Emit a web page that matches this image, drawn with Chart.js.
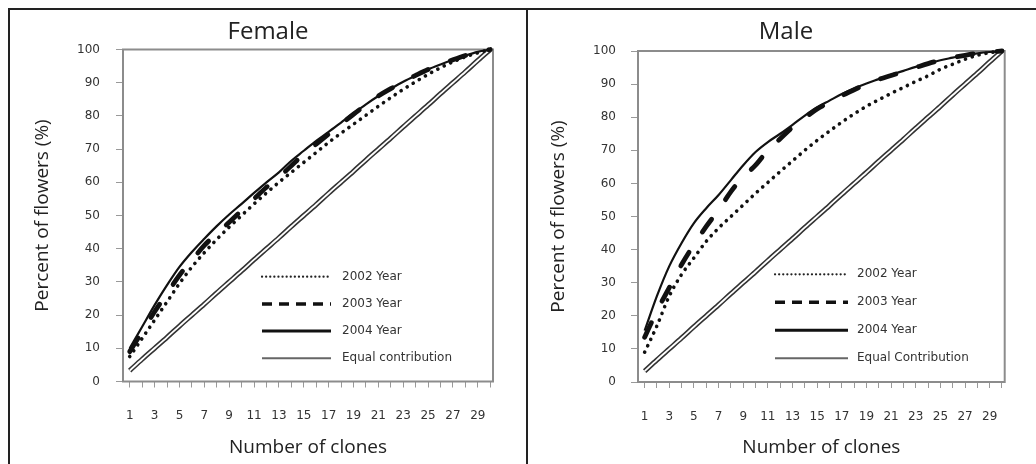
<!DOCTYPE html>
<html>
<head>
<meta charset="utf-8">
<script src="https://cdn.jsdelivr.net/npm/chart.js@4.4.1/dist/chart.umd.min.js"></script>
<style>
  html, body { margin: 0; padding: 0; background: #fff; overflow: hidden; }
  body { width: 1036px; height: 464px; position: relative; }
  .frame { position: absolute; top: 8px; height: 470px; border-top: 2px solid #222; border-left: 2px solid #222; }
  canvas { position: absolute; top: 10px; }
</style>
</head>
<body>
<div class="frame" style="left: 8px; width: 1040px;"></div>
<div class="frame" style="left: 526px; width: 520px;"></div>
<canvas id="female" width="516" height="454" style="left: 10px;"></canvas>
<canvas id="male" width="516" height="454" style="left: 528px;"></canvas>
<script>
// Categories and tick labels
const clones = [1, 2, 3, 4, 5, 6, 7, 8, 9, 10, 11, 12, 13, 14, 15, 16, 17, 18, 19, 20, 21, 22, 23, 24, 25, 26, 27, 28, 29, 30];
const xTickLabels = [1, 3, 5, 7, 9, 11, 13, 15, 17, 19, 21, 23, 25, 27, 29];
const yTicks = [0, 10, 20, 30, 40, 50, 60, 70, 80, 90, 100];

// Cumulative percent of flowers
const equalContribution = [3.3, 6.7, 10, 13.3, 16.7, 20, 23.3, 26.7, 30, 33.3, 36.7, 40, 43.3, 46.7, 50, 53.3, 56.7, 60, 63.3, 66.7, 70, 73.3, 76.7, 80, 83.3, 86.7, 90, 93.3, 96.7, 100];

const female2002 = [7.5, 13, 18.5, 24, 29.5, 34.5, 38.8, 42.8, 46.5, 50, 53.5, 56.8, 60, 63, 66, 69, 72, 74.8, 77.5, 80.2, 82.9, 85.5, 88, 90.3, 92.5, 94.5, 96.3, 97.8, 99, 100];
const female2003 = [9, 15, 21, 26.5, 32, 36.5, 41, 44.5, 48, 51.5, 55, 58.5, 61.5, 65, 68.5, 71.5, 74.5, 77.5, 80.5, 83.3, 86, 88.2, 90.3, 92.2, 94, 95.5, 96.9, 98.2, 99.3, 100];
const female2004 = [10, 16.5, 23, 29, 34.5, 39, 43, 46.8, 50.3, 53.5, 56.8, 60, 63, 66.5, 69.5, 72.5, 75.2, 78, 80.8, 83.5, 86, 88.2, 90.3, 92.2, 94, 95.5, 96.9, 98.2, 99.3, 100];

const male2002 = [9, 17, 26, 32.5, 37.5, 42.5, 46.5, 50, 53.5, 57, 60.3, 63.6, 66.8, 70, 73, 75.8, 78.5, 81, 83.3, 85.3, 87.2, 89, 90.8, 92.5, 94.5, 96, 97.5, 98.7, 99.5, 100];
const male2003 = [13.5, 21.5, 28.5, 35.5, 41.5, 47, 52, 57.5, 62, 65.5, 70, 73.5, 77, 79.8, 82.5, 84.5, 86.5, 88.3, 90, 91.4, 92.6, 93.8, 95, 96.2, 97.2, 98, 98.7, 99.3, 99.7, 100];
const male2004 = [15.5, 26, 35, 42, 48, 52.5, 56.5, 61, 65.5, 69.5, 72.5, 75, 77.7, 80.5, 83, 85, 87, 88.7, 90.2, 91.5, 92.8, 94, 95.2, 96.3, 97.2, 98, 98.8, 99.3, 99.7, 100];

const femaleLegend = ['2002 Year', '2003 Year', '2004 Year', 'Equal contribution'];
const maleLegend = ['2002 Year', '2003 Year', '2004 Year', 'Equal Contribution'];

// Legend sample styles, same order as the legend labels
const legendStyles = [
  { dash: [0.1, 4], width: 2.2, cap: 'round', color: '#222' },
  { dash: [10, 7], width: 3.5, cap: 'butt', color: '#111' },
  { dash: [], width: 3, cap: 'butt', color: '#111' },
  { dash: [], width: 2, cap: 'butt', color: '#666' }
];

const TICK_FONT = { family: '"DejaVu Sans", sans-serif', size: 12 };
const AXIS_FONT = { family: '"Open Sans", sans-serif', size: 19 };

function toPoints(values) {
  return values.map((v, i) => ({ x: clones[i], y: v }));
}

/**
 * Plot frame, panel title and the in-plot legend
 */
const panelDecor = {
  id: 'panelDecor',
  beforeDatasetsDraw(chart) {
    const { ctx, chartArea: a } = chart;
    ctx.save();
    ctx.strokeStyle = '#8c8c8c';
    ctx.lineWidth = 2;
    ctx.strokeRect(a.left, a.top, a.right - a.left, a.bottom - a.top);
    ctx.restore();
  },
  afterDraw(chart, args, opts) {
    const { ctx, chartArea: a } = chart;
    ctx.save();
    // Title
    ctx.fillStyle = '#222';
    ctx.font = '24px "Open Sans", sans-serif';
    ctx.textAlign = 'center';
    ctx.textBaseline = 'middle';
    ctx.fillText(opts.title, chart.width / 2, opts.titleY);

    // Legend
    ctx.font = '12px "DejaVu Sans", sans-serif';
    ctx.textAlign = 'left';
    opts.labels.forEach((label, i) => {
      const st = legendStyles[i];
      const y = a.top + opts.legendY + i * opts.rowGap;
      const x0 = a.left + opts.legendX;
      ctx.beginPath();
      ctx.setLineDash(st.dash);
      ctx.lineCap = st.cap;
      ctx.lineWidth = st.width;
      ctx.strokeStyle = st.color;
      ctx.moveTo(x0, y);
      ctx.lineTo(x0 + opts.lineLen, y);
      ctx.stroke();
      ctx.setLineDash([]);
      ctx.fillStyle = '#333';
      ctx.fillText(label, x0 + opts.textOffset, y);
    });
    ctx.restore();
  }
};

function buildDatasets(y2002, y2003, y2004, labels) {
  const common = { pointRadius: 0, fill: false, cubicInterpolationMode: 'monotone', clip: false };
  return [
    { ...common, label: labels[2], data: toPoints(y2004), borderColor: '#111', borderWidth: 2.2 },
    { ...common, label: labels[1], data: toPoints(y2003), borderColor: '#111', borderWidth: 4.8, borderDash: [16, 24], borderCapStyle: 'round' },
    { ...common, label: labels[0], data: toPoints(y2002), borderColor: '#111', borderWidth: 3.6, borderDash: [0.1, 7], borderCapStyle: 'round' },
    // equal contribution is drawn as a double line: white core over a dark wide stroke
    { ...common, label: 'inner', data: toPoints(equalContribution), borderColor: '#fff', borderWidth: 1.8 },
    { ...common, label: labels[3], data: toPoints(equalContribution), borderColor: '#333', borderWidth: 5 }
  ];
}

function makeChart(id, geo, datasets, decor) {
  return new Chart(document.getElementById(id), {
    type: 'line',
    data: { datasets },
    options: {
      responsive: false,
      animation: false,
      devicePixelRatio: 1,
      layout: { padding: { top: geo.top, right: 516 - geo.right, left: 0, bottom: 0 } },
      plugins: {
        legend: { display: false },
        tooltip: { enabled: false },
        panelDecor: decor
      },
      scales: {
        x: {
          type: 'linear',
          min: 0.46,
          max: 30.22,
          afterFit: s => { s.height = 454 - geo.bottom; },
          afterBuildTicks: s => { s.ticks = clones.map(v => ({ value: v })); },
          ticks: {
            autoSkip: false,
            maxRotation: 0,
            padding: geo.xPad,
            color: '#333',
            font: TICK_FONT,
            callback: v => xTickLabels.includes(v) ? String(v) : ''
          },
          grid: { drawOnChartArea: false, tickLength: 6, color: '#999' },
          border: { display: false },
          title: {
            display: true,
            text: 'Number of clones',
            color: '#222',
            font: AXIS_FONT,
            padding: { top: 0, bottom: 4.6 }
          }
        },
        y: {
          min: 0,
          max: 100,
          afterFit: s => { s.width = geo.left; },
          afterBuildTicks: s => { s.ticks = yTicks.map(v => ({ value: v })); },
          ticks: { padding: geo.yPad, color: '#333', font: TICK_FONT },
          grid: { drawOnChartArea: false, tickLength: 7, color: '#999' },
          border: { display: false },
          title: {
            display: true,
            text: 'Percent of flowers (%)',
            color: '#222',
            font: AXIS_FONT,
            padding: { top: geo.yTitlePad, bottom: 0 }
          }
        }
      }
    },
    plugins: [panelDecor]
  });
}

makeChart('female',
  { left: 113, right: 483, top: 39.5, bottom: 371.5, xPad: 21, yPad: 16, yTitlePad: 21.6 },
  buildDatasets(female2002, female2003, female2004, femaleLegend),
  { title: 'Female', titleY: 21.7, labels: femaleLegend, legendX: 139, legendY: 227.2, rowGap: 27.2, lineLen: 69, textOffset: 80 });

makeChart('male',
  { left: 110, right: 476.7, top: 41, bottom: 372, xPad: 22, yPad: 15, yTitlePad: 19.6 },
  buildDatasets(male2002, male2003, male2004, maleLegend),
  { title: 'Male', titleY: 21.7, labels: maleLegend, legendX: 137, legendY: 223.3, rowGap: 28, lineLen: 73, textOffset: 82 });
</script>
</body>
</html>
